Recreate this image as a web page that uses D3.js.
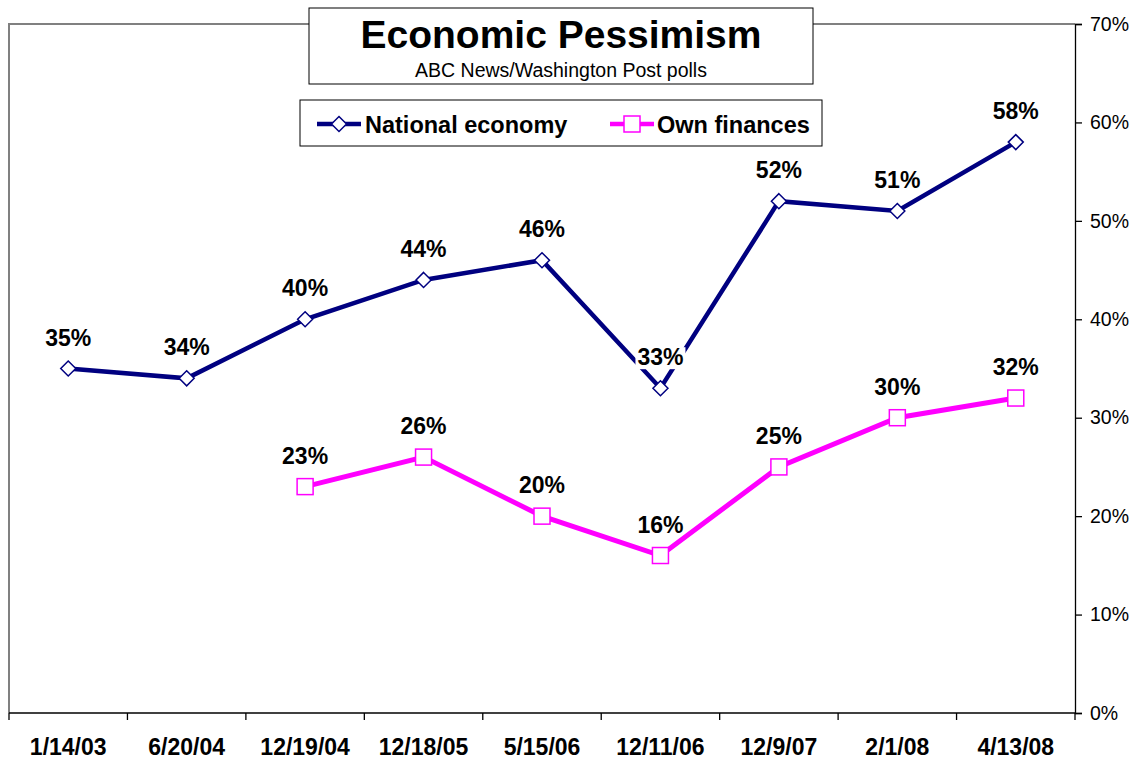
<!DOCTYPE html>
<html><head><meta charset="utf-8">
<script src="https://cdn.jsdelivr.net/npm/d3@7"></script>
<style>body{margin:0;background:#fff}svg{display:block;font-family:Arial,"Liberation Sans",sans-serif}</style>
</head><body>
<svg id="c" width="1136" height="761"></svg>
<script>
const categories = ["1/14/03","6/20/04","12/19/04","12/18/05","5/15/06","12/11/06","12/9/07","2/1/08","4/13/08"];
const nationalEconomy = [35,34,40,44,46,33,52,51,58];
const ownFinances = [null,null,23,26,20,16,25,30,32];
const yTicks = [0,10,20,30,40,50,60,70];
const seriesNames = ["National economy","Own finances"];
const seriesColors = ["#000080","#FF00FF"];

const svg = d3.select("#c");
const L = 9, R = 1075, T = 24, B = 713;
const x = d3.scaleBand().domain(categories).range([L, R]).paddingInner(0).paddingOuter(0);
const y = d3.scaleLinear().domain([0,70]).range([B, T]);

const diamond = h => `M0,${-h}L${h},0L0,${h}L${-h},0Z`;

// plot border (top, left gray)
svg.append("path").attr("d", `M${L},${B}V${T}H${R}`).attr("fill","none").attr("stroke","#808080").attr("stroke-width",2);

// right axis
const ya = svg.append("g").attr("transform",`translate(${R},0)`)
  .call(d3.axisRight(y).tickValues(yTicks).tickSize(7).tickPadding(8).tickFormat(d=>d+"%"));
ya.select(".domain").attr("stroke","#000").attr("stroke-width",1.3);
ya.selectAll(".tick line").attr("stroke","#000").attr("stroke-width",1.3);
ya.selectAll("text").attr("font-size",19.5).attr("fill","#000").attr("font-family","Arial, 'Liberation Sans', sans-serif");

// bottom axis with ticks at boundaries
const bx = svg.append("g").attr("transform",`translate(0,${B})`);
bx.append("line").attr("x1",L).attr("x2",R).attr("stroke","#000").attr("stroke-width",1.3);
const bounds = categories.map(c=>x(c)).concat([R]);
bx.selectAll("line.tk").data(bounds).join("line").attr("class","tk")
  .attr("x1",d=>d).attr("x2",d=>d).attr("y1",0).attr("y2",7).attr("stroke","#000").attr("stroke-width",1.3);
bx.selectAll("text").data(categories).join("text")
  .attr("x",d=>x(d)+x.bandwidth()/2).attr("y",42).attr("text-anchor","middle")
  .attr("font-size",23).attr("font-weight","bold").text(d=>d);

const cx = d => x(d)+x.bandwidth()/2;
const line = d3.line().defined(d=>d.v!=null).x(d=>cx(d.c)).y(d=>y(d.v));
const mk = arr => categories.map((c,i)=>({c, v:arr[i]}));
const data = [mk(nationalEconomy), mk(ownFinances)];

data.forEach((s,si)=>{
  svg.append("path").datum(s).attr("d",line).attr("fill","none")
    .attr("stroke",seriesColors[si]).attr("stroke-width",si===0?4.5:5).attr("stroke-linejoin","miter");
});

// labels
data.forEach((s,si)=>{
  const g = svg.append("g");
  s.filter(d=>d.v!=null).forEach(d=>{
    const tx = cx(d.c), ty = y(d.v)-23;
    if(si===0 && d.c==="12/11/06"){
      g.append("rect").attr("x",tx-25).attr("y",ty-18).attr("width",50).attr("height",22).attr("fill","#fff");
    }
    g.append("text").attr("x",tx).attr("y",ty).attr("text-anchor","middle")
      .attr("font-size",23).attr("font-weight","bold").text(d.v+"%");
  });
});

// markers
data.forEach((s,si)=>{
  const pts = s.filter(d=>d.v!=null);
  if(si===0){
    svg.selectAll(null).data(pts).join("path")
      .attr("d",diamond(7.5))
      .attr("transform",d=>`translate(${cx(d.c)},${y(d.v)})`)
      .attr("fill","#fff").attr("stroke",seriesColors[0]).attr("stroke-width",1.5);
  } else {
    svg.selectAll(null).data(pts).join("rect")
      .attr("x",d=>cx(d.c)-8).attr("y",d=>y(d.v)-8).attr("width",16).attr("height",16)
      .attr("fill","#fff").attr("stroke",seriesColors[1]).attr("stroke-width",1.5);
  }
});

// title box
svg.append("rect").attr("x",309).attr("y",8).attr("width",504).attr("height",76).attr("fill","#fff").attr("stroke","#000").attr("stroke-width",1);
svg.append("text").attr("x",561).attr("y",48).attr("text-anchor","middle").attr("font-size",39).attr("font-weight","bold").text("Economic Pessimism");
svg.append("text").attr("x",561).attr("y",77).attr("text-anchor","middle").attr("font-size",19.5).text("ABC News/Washington Post polls");

// legend box
svg.append("rect").attr("x",300).attr("y",100).attr("width",522).attr("height",46).attr("fill","#fff").attr("stroke","#000").attr("stroke-width",1);
const lg = [{x:317,tx:365},{x:610,tx:657}];
lg.forEach((p,i)=>{
  const ly = 124;
  svg.append("line").attr("x1",p.x).attr("x2",p.x+44).attr("y1",ly).attr("y2",ly).attr("stroke",seriesColors[i]).attr("stroke-width",4.5);
  if(i===0){
    svg.append("path").attr("d",diamond(7.5)).attr("transform",`translate(${p.x+22},${ly})`)
      .attr("fill","#fff").attr("stroke",seriesColors[0]).attr("stroke-width",1.5);
  } else {
    svg.append("rect").attr("x",p.x+14).attr("y",ly-8).attr("width",16).attr("height",16)
      .attr("fill","#fff").attr("stroke",seriesColors[1]).attr("stroke-width",1.5);
  }
  svg.append("text").attr("x",p.tx).attr("y",ly+9).attr("font-size",23.5).attr("font-weight","bold").text(seriesNames[i]);
});
</script>
</body></html>
